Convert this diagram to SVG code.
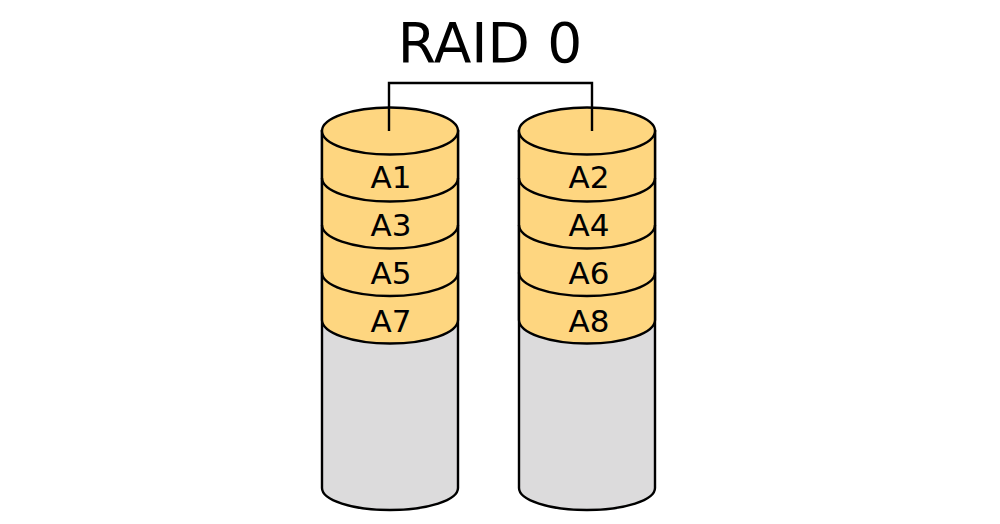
<svg xmlns="http://www.w3.org/2000/svg" width="1000" height="524" viewBox="0 0 1000 524">
<style>
.body{fill:#dcdbdc;stroke:#000;stroke-width:2.4}
.band{fill:#fed680;stroke:#000;stroke-width:2.4}
.line{fill:none;stroke:#000;stroke-width:2.4}
.lbl{font-family:"DejaVu Sans",sans-serif;font-size:31px;text-anchor:middle;fill:#000}
.title{font-family:"DejaVu Sans",sans-serif;font-size:55px;text-anchor:middle;fill:#000}
</style>
<rect width="1000" height="524" fill="#fff"/>
<text class="title" x="490" y="62">RAID 0</text>
<g id="connectors">
<path class="line" d="M389 131 V83 H592 V131"/>
</g>
<g id="disk1">
<path class="body" d="M322 131 V488 A68 22 0 0 0 458 488 V131 Z"/>
<path class="band" d="M322 131 V320 A68 23.5 0 0 0 458 320 V131 Z"/>
<path class="line" d="M322 178 A68 23.5 0 0 0 458 178 M322 225 A68 23.5 0 0 0 458 225 M322 272.5 A68 23.5 0 0 0 458 272.5"/>
<ellipse class="band" cx="390" cy="131" rx="68" ry="23.5"/>
<path class="line" d="M389 131 V108"/>
<text class="lbl" x="391" y="188">A1</text>
<text class="lbl" x="391" y="236">A3</text>
<text class="lbl" x="391" y="284">A5</text>
<text class="lbl" x="391" y="332">A7</text>
</g>
<g id="disk2">
<path class="body" d="M519 131 V488 A68 22 0 0 0 655 488 V131 Z"/>
<path class="band" d="M519 131 V320 A68 23.5 0 0 0 655 320 V131 Z"/>
<path class="line" d="M519 178 A68 23.5 0 0 0 655 178 M519 225 A68 23.5 0 0 0 655 225 M519 272.5 A68 23.5 0 0 0 655 272.5"/>
<ellipse class="band" cx="587" cy="131" rx="68" ry="23.5"/>
<path class="line" d="M592 131 V108"/>
<text class="lbl" x="589" y="188">A2</text>
<text class="lbl" x="589" y="236">A4</text>
<text class="lbl" x="589" y="284">A6</text>
<text class="lbl" x="589" y="332">A8</text>
</g>
</svg>
